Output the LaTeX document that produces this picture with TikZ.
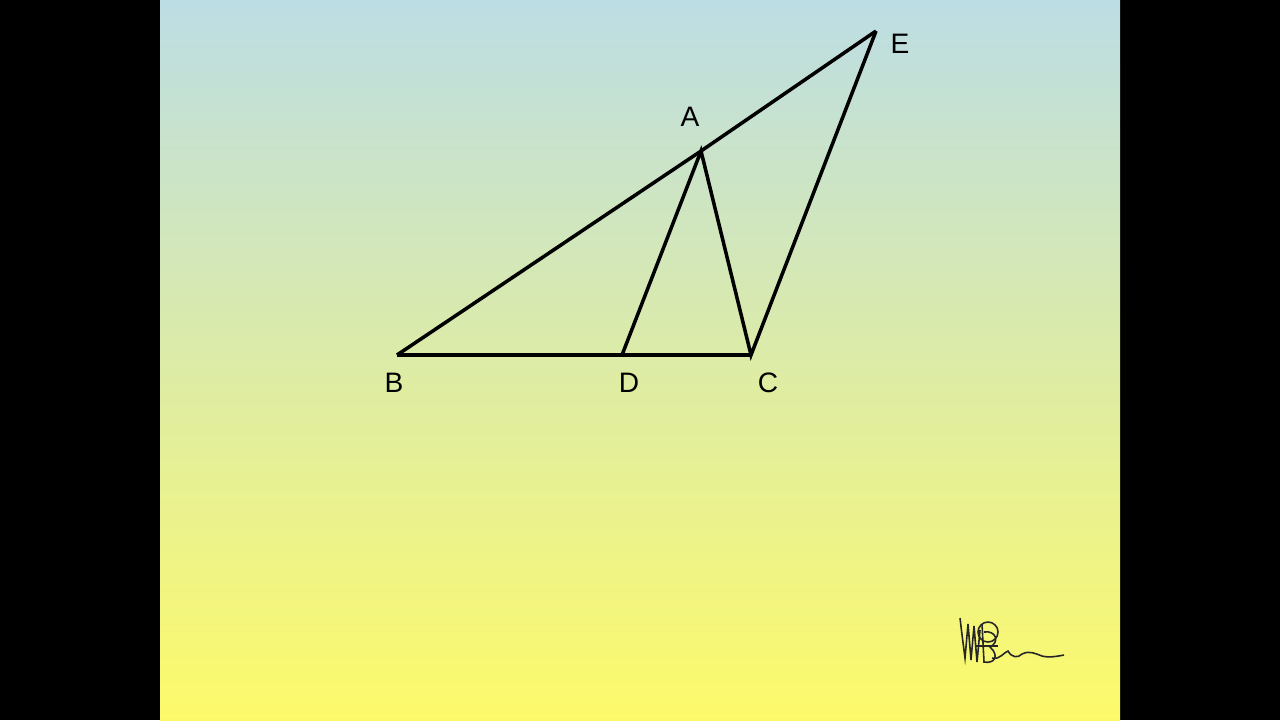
\documentclass[tikz,border=0pt]{standalone}
\usepackage{fontspec}
\setmainfont{Liberation Sans}
\usepackage{tikz}
\definecolor{skytop}{HTML}{BCDDE4}
\definecolor{skymid}{HTML}{E1EDB4}
\definecolor{skybot}{HTML}{FDFA6A}
\tikzset{
	side/.style={line width=1pt, line join=miter},
	vlabel/.style={font=\fontsize{8}{10}\selectfont, inner sep=0pt}
}
\newcommand{\signature}[2] % {x}{y} en pixels
{
	\begin{scope}[shift={(#1,#2)}, line width=0.45pt, black!85]
		\draw (0,-2) .. controls (2,15) .. (5,38) -- (8,4) -- (11,40) -- (14,6) -- (17,42) -- (20,10);
		\draw (28,12) circle [radius=10];
		\draw (22,4) -- (24,42) .. controls (34,44) and (40,36) .. (30,27) .. controls (40,22) and (36,10) .. (24,12);
		\draw (16,26) -- (38,26);
		\draw (32,38) .. controls (40,40) and (44,32) .. (48,31) .. controls (52,38) and (58,38) .. (62,34) .. controls (70,30) and (76,34) .. (82,36) .. controls (90,38) and (98,36) .. (104,35);
	\end{scope}
}

\begin{document}
\begin{tikzpicture}[x=0.01cm, y=-0.01cm]

	\useasboundingbox (0,0) rectangle (1280,720);
	\fill[black] (0,0) rectangle (1280,720);
	\shade[top color=skytop, middle color=skymid, bottom color=skybot] (160,0) rectangle (1120,720);

	\coordinate (B) at (397,355);
	\coordinate (D) at (622,355);
	\coordinate (C) at (751,355);
	\coordinate (A) at (701,151);
	\coordinate (E) at (876,31);

	\draw[side] (B) -- (A) -- (E);
	\draw[side] (B) -- (D) -- (C);
	\draw[side] (D) -- (A) -- (C) -- (E);

	\node[vlabel] (lA) at (690,117) {A};
	\node[vlabel] (lB) at (394,383) {B};
	\node[vlabel] (lD) at (629,383) {D};
	\node[vlabel] (lC) at (768,383) {C};
	\node[vlabel] (lE) at (900,44) {E};

	\signature{960}{620}
\end{tikzpicture}
\end{document}
